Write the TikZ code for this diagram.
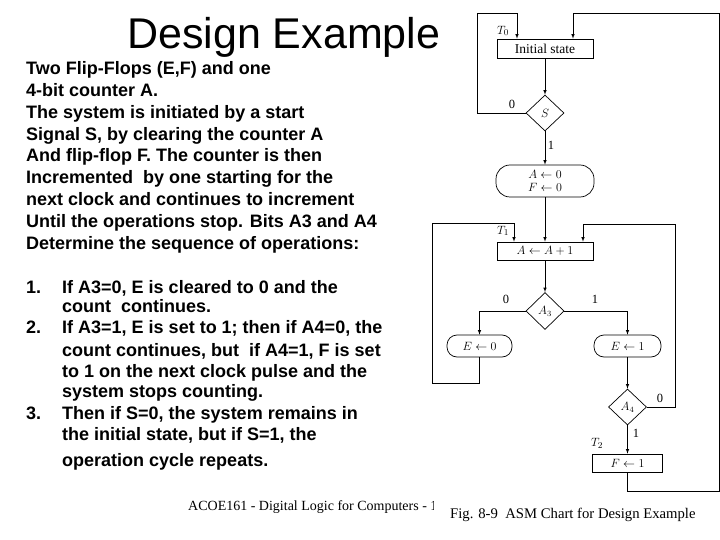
\documentclass[tikz,border=0pt]{standalone}
\usepackage{fontspec}
\usetikzlibrary{shapes.geometric}
\newfontfamily\policeArial{Liberation Sans}
\newfontfamily\policeTimes{Liberation Serif}
\begin{document}
\begin{tikzpicture}[x=1pt,y=-1pt]
			% Styles
			\tikzstyle{fleche}=[->,>=latex,line width=0.6pt]
			\tikzstyle{trait}=[-,line width=0.6pt]
			\tikzstyle{etat}=[draw,line width=0.7pt,inner sep=0pt,minimum height=18pt,font={\fontsize{12}{13}\selectfont}]
			\tikzstyle{decision}=[draw,diamond,line width=0.7pt,inner sep=0pt,minimum width=38pt,minimum height=37pt,font={\fontsize{12}{13}\selectfont}]
			\tikzstyle{sortie}=[draw,line width=0.7pt,rounded corners=10pt,inner sep=0pt,minimum height=22pt,font={\fontsize{12}{13}\selectfont}]
			\tikzstyle{etiquette}=[inner sep=0pt,font={\policeTimes\fontsize{12.5}{13}\selectfont}]
			\tikzstyle{temps}=[inner sep=0pt,font={\fontsize{13}{14}\selectfont}]
			\tikzstyle{texte}=[anchor=base west,inner sep=0pt,font={\policeArial\bfseries\fontsize{18}{21}\selectfont}]
			% Cadre
			\useasboundingbox[fill=white] (0,0) rectangle (720,540);
			% Titre et texte
			\node[anchor=base west,inner sep=0pt,font={\policeArial\fontsize{43}{48}\selectfont}] (Titre) at (127,49) {Design Example};
			\foreach \ligne [count=\i] in {{Two Flip-Flops (E,F) and one},{4-bit counter A.},{The system is initiated by a start},{Signal S, by clearing the counter A},{And flip-flop F. The counter is then},{Incremented\ \ by one starting for the},{next clock and continues to increment},{Until the operations stop. Bits A3 and A4},{Determine the sequence of operations:}}
				\node[texte] (L\i) at (26,{75+(\i-1)*21.75}) {\ligne};
			\node[texte] (N1) at (26,293.5) {1.};
			\node[texte] (N2) at (26,333.5) {2.};
			\node[texte] (N3) at (26,419.5) {3.};
			\node[texte] (P1) at (62,293.5) {If A3=0, E is cleared to 0 and the};
			\node[texte] (P2) at (62,312.5) {count\ \ continues.};
			\node[texte] (P3) at (62,333.5) {If A3=1, E is set to 1; then if A4=0, the};
			\node[texte] (P4) at (62,356) {count continues, but\ \ if A4=1, F is set};
			\node[texte] (P5) at (62,377.5) {to 1 on the next clock pulse and the};
			\node[texte] (P6) at (62,397.5) {system stops counting.};
			\node[texte] (P7) at (62,419.5) {Then if S=0, the system remains in};
			\node[texte] (P8) at (62,440) {the initial state, but if S=1, the};
			\node[texte] (P9) at (62,466) {operation cycle repeats.};
			% Pied de page (coupe)
			\begin{scope}
				\clip (0,490) rectangle (433,540);
				\node[anchor=base west,inner sep=0pt,font={\policeTimes\fontsize{14}{16}\selectfont}] (Pied) at (188,510) {ACOE161 - Digital Logic for Computers - 1};
			\end{scope}
			\node[anchor=base west,inner sep=0pt,font={\policeTimes\fontsize{14.7}{16}\selectfont}] (Legende) at (450,518) {Fig. 8-9\ \ ASM Chart for Design Example};
			% Noeuds du diagramme ASM
			\node[etat,minimum width=96pt,minimum height=19pt,font={\policeTimes\fontsize{13.5}{14}\selectfont}] (Init) at (545,48.5) {Initial state};
			\node[decision,minimum height=36pt] (S) at (545,113) {$S$};
			\node[sortie,align=center,minimum width=98pt,minimum height=32pt,rounded corners=14pt] (Raz) at (545,181) {$A\leftarrow0$\\$F\leftarrow0$};
			\node[etat,minimum width=96pt] (Inc) at (545,251) {$A\leftarrow A+1$};
			\node[decision] (A3) at (545,311) {$A_3$};
			\node[sortie,minimum width=65pt] (E0) at (479.5,346) {$E\leftarrow0$};
			\node[sortie,minimum width=67pt] (E1) at (627.5,346) {$E\leftarrow1$};
			\node[decision,minimum height=36pt] (A4) at (627.5,407) {$A_4$};
			\node[etat,minimum width=70pt] (F1) at (627.5,463) {$F\leftarrow1$};
			% Etiquettes
			\node[temps] (T0) at (503,31) {$T_0$};
			\node[temps] (T1) at (503,231) {$T_1$};
			\node[temps] (T2) at (597,443) {$T_2$};
			\node[etiquette] (S0) at (512,104) {0};
			\node[etiquette] (S1) at (551,145) {1};
			\node[etiquette] (Z0) at (506,299) {0};
			\node[etiquette] (Z1) at (595,299) {1};
			\node[etiquette] (Q0) at (660,398) {0};
			\node[etiquette] (Q1) at (636,433) {1};
			% Points de retour
			\coordinate (G0) at (477,13);
			\coordinate (D0) at (719,13);
			\coordinate (D1) at (719,491);
			\coordinate (C0) at (432,223);
			\coordinate (C1) at (432,383);
			\coordinate (C2) at (675,224);
			% Arcs
			\draw[fleche] (Init)--(S);
			\draw[fleche] (S)--(Raz);
			\draw[fleche] (Raz)--(Inc);
			\draw[fleche] (Inc)--(A3);
			\draw[fleche] (A3.west) -| (E0.north);
			\draw[fleche] (A3.east) -| (E1.north);
			\draw[fleche] (E1)--(A4);
			\draw[fleche] (A4)--(F1);
			\draw[fleche] (S.west) -| (G0) -| ([xshift=-28pt]Init.north);
			\draw[fleche] (F1.south) |- (D1) -- (D0) -| ([xshift=28pt]Init.north);
			\draw[fleche] (E0.south) |- (C1) -- (C0) -| ([xshift=-31pt]Inc.north);
			\draw[fleche] (A4.east) -| (C2) -| ([xshift=38pt]Inc.north);
		\end{tikzpicture}
\end{document}
